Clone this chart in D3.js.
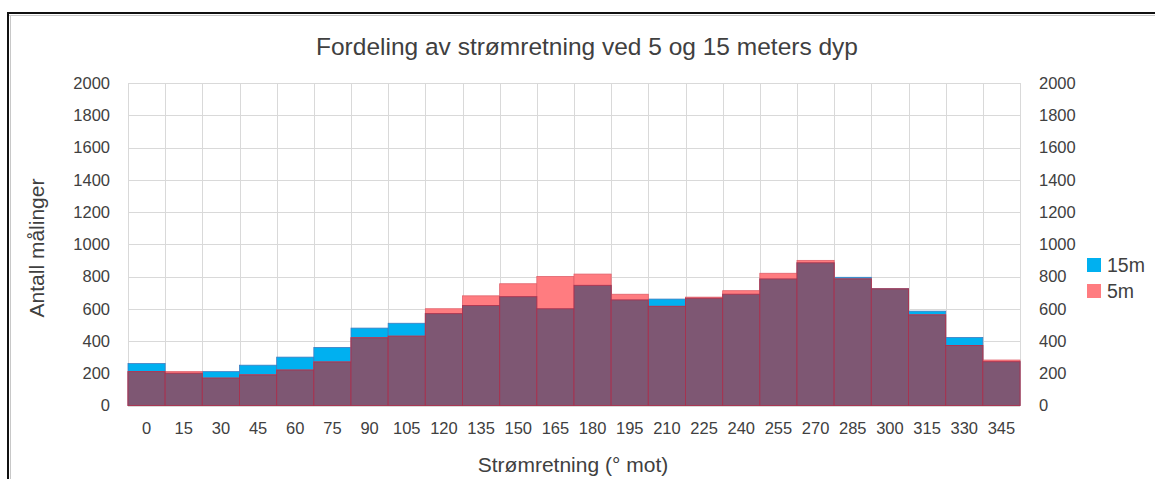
<!DOCTYPE html>
<html>
<head>
<meta charset="utf-8">
<script src="https://cdn.jsdelivr.net/npm/d3@7"></script>
<style>
  html, body { margin: 0; padding: 0; background: #fff; }
  svg { display: block; font-family: "Liberation Sans", Arial, sans-serif; }
</style>
</head>
<body>
<svg id="chart" width="1155" height="479"></svg>
<script>
// Direction bins (degrees, "towards")
const directions = [0, 15, 30, 45, 60, 75, 90, 105, 120, 135, 150, 165,
                    180, 195, 210, 225, 240, 255, 270, 285, 300, 315, 330, 345];
// Number of measurements per bin at 15 m depth
const depth15m = [260, 200, 210, 250, 300, 360, 480, 510, 570, 620, 675, 600,
                  745, 655, 660, 665, 690, 785, 885, 795, 725, 585, 422, 272];
// Number of measurements per bin at 5 m depth
const depth5m = [210, 210, 170, 190, 220, 270, 420, 430, 600, 680, 755, 800,
                 815, 690, 615, 672, 712, 820, 900, 785, 723, 562, 372, 282];
const yTicks = [0, 200, 400, 600, 800, 1000, 1200, 1400, 1600, 1800, 2000];
const seriesNames = ["15m", "5m"];

const colBlue = "#00B0F0";
const colSalmon = "#FF7C80";
const colOverlap = "#7E5773";
const textCol = "#404040";
const gridCol = "#D9D9D9";

const svg = d3.select("#chart");

// Outer frame (left and top edges)
svg.append("line").attr("x1", 10.5).attr("x2", 10.5).attr("y1", 15).attr("y2", 479)
  .attr("stroke", "#C8C8C8").attr("stroke-width", 1);
svg.append("line").attr("x1", 9).attr("x2", 1155).attr("y1", 15.5).attr("y2", 15.5)
  .attr("stroke", "#C8C8C8").attr("stroke-width", 1);
svg.append("line").attr("x1", 8).attr("x2", 8).attr("y1", 12).attr("y2", 479)
  .attr("stroke", "#111").attr("stroke-width", 2);
svg.append("line").attr("x1", 7).attr("x2", 1155).attr("y1", 13).attr("y2", 13)
  .attr("stroke", "#111").attr("stroke-width", 2);

const x = d3.scaleBand().domain(directions).range([128, 1020]).padding(0);
const y = d3.scaleLinear().domain([0, 2000]).range([405.5, 83]);

// Horizontal gridlines
svg.append("g").selectAll("line").data(yTicks).join("line")
  .attr("x1", 128).attr("x2", 1020)
  .attr("y1", d => Math.round(y(d)) + 0.5).attr("y2", d => Math.round(y(d)) + 0.5)
  .attr("stroke", gridCol).attr("stroke-width", 1);

// Vertical gridlines at bin boundaries
const bounds = directions.map(d => x(d)).concat([x.range()[1]]);
svg.append("g").selectAll("line").data(bounds).join("line")
  .attr("x1", d => Math.round(d) + 0.5).attr("x2", d => Math.round(d) + 0.5)
  .attr("y1", y(2000)).attr("y2", y(0))
  .attr("stroke", gridCol).attr("stroke-width", 1);

const rows = directions.map((d, i) => ({ dir: d, a: depth15m[i], b: depth5m[i] }));

// 15 m bars
svg.append("g").selectAll("rect").data(rows).join("rect")
  .attr("x", d => x(d.dir)).attr("width", x.bandwidth())
  .attr("y", d => y(d.a)).attr("height", d => y(0) - y(d.a))
  .attr("fill", colBlue).attr("stroke", "#3E7CC0").attr("stroke-width", 0.8);

// 5 m bars
svg.append("g").selectAll("rect").data(rows).join("rect")
  .attr("x", d => x(d.dir)).attr("width", x.bandwidth())
  .attr("y", d => y(d.b)).attr("height", d => y(0) - y(d.b))
  .attr("fill", colSalmon).attr("stroke", "#E0606A").attr("stroke-width", 0.8);

// Common part of both depths
svg.append("g").selectAll("rect").data(rows).join("rect")
  .attr("x", d => x(d.dir)).attr("width", x.bandwidth())
  .attr("y", d => y(Math.min(d.a, d.b))).attr("height", d => y(0) - y(Math.min(d.a, d.b)))
  .attr("fill", colOverlap).attr("stroke", "#A8304E").attr("stroke-width", 1)
  .attr("stroke-opacity", 0.85);

// Left and right value axes
const fmt = d3.format("d");
const leftAxis = d3.axisLeft(y).tickValues(yTicks).tickFormat(fmt).tickSize(0).tickPadding(0);
const gl = svg.append("g").attr("transform", "translate(110,0)").call(leftAxis);
gl.select(".domain").remove();
gl.selectAll("text").attr("fill", textCol).style("font-size", "16.5px")
  .attr("font-family", null);

const rightAxis = d3.axisRight(y).tickValues(yTicks).tickFormat(fmt).tickSize(0).tickPadding(0);
const gr = svg.append("g").attr("transform", "translate(1039,0)").call(rightAxis);
gr.select(".domain").remove();
gr.selectAll("text").attr("fill", textCol).style("font-size", "16.5px")
  .attr("font-family", null);

// Category axis labels
const bottomAxis = d3.axisBottom(x).tickSize(0).tickPadding(0);
const gb = svg.append("g").attr("transform", "translate(0,426)").call(bottomAxis);
gb.select(".domain").remove();
gb.selectAll("text").attr("fill", textCol).style("font-size", "16.5px")
  .attr("font-family", null).attr("dy", "0.5em");

// Titles
svg.append("text").attr("x", 587).attr("y", 46).attr("dy", "0.35em")
  .attr("text-anchor", "middle").attr("fill", textCol).style("font-size", "24.5px")
  .text("Fordeling av strømretning ved 5 og 15 meters dyp");

svg.append("text").attr("x", 573).attr("y", 465).attr("dy", "0.35em")
  .attr("text-anchor", "middle").attr("fill", textCol).style("font-size", "21px")
  .text("Strømretning (° mot)");

svg.append("text").attr("transform", "translate(37,248) rotate(-90)")
  .attr("dy", "0.35em").attr("text-anchor", "middle").attr("fill", textCol)
  .style("font-size", "21px").text("Antall målinger");

// Legend
const legendColors = [colBlue, colSalmon];
const lg = svg.append("g").selectAll("g").data(seriesNames).join("g")
  .attr("transform", (d, i) => `translate(1087,${258 + i * 26})`);
lg.append("rect").attr("width", 14).attr("height", 14)
  .attr("fill", (d, i) => legendColors[i]);
lg.append("text").attr("x", 20).attr("y", 7).attr("dy", "0.35em")
  .attr("fill", textCol).style("font-size", "19.5px").text(d => d);
</script>
</body>
</html>
